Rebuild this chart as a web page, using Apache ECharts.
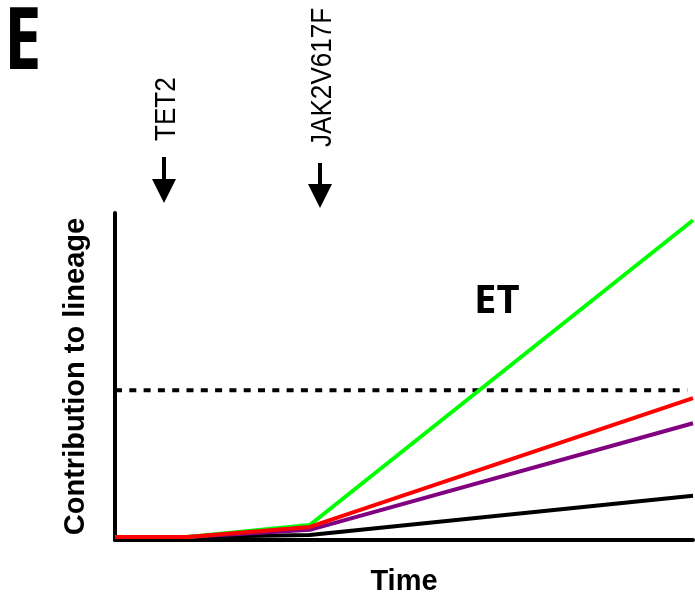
<!DOCTYPE html>
<html><head><meta charset="utf-8">
<script src="https://cdn.jsdelivr.net/npm/echarts@6/dist/echarts.min.js"></script>
<style>html,body{margin:0;padding:0;background:#fff}#c{width:695px;height:598px}</style>
</head><body><div id="c"></div>
<script>
const timePoints = [0, 12.5, 33.7, 100];
const greenVals = [0.9, 0.9, 4.6, 97.8];
const redVals = [0.9, 0.9, 4.0, 43.4];
const purpleVals = [0.9, 0.9, 3.1, 35.7];
const blackVals = [0.9, 0.9, 1.5, 13.5];
const thresholdX = [0, 99];
const thresholdY = [45.8, 45.8];

const pair = (xs, ys) => xs.map((x, i) => [x, ys[i]]);
const chart = echarts.init(document.getElementById('c'));
const mk = (name, vals, color) => ({
  name, type: 'line', data: pair(timePoints, vals), symbol: 'none', silent: true,
  lineStyle: { color, width: 4 }, animation: false
});
chart.setOption({
  animation: false,
  grid: { left: 115, right: 2, top: 213, bottom: 58, outerBoundsMode: 'none', containLabel: false },
  xAxis: { type: 'value', min: 0, max: 100, axisLine: { onZero: false, lineStyle: { color: '#000', width: 4 } },
    axisTick: { show: false }, axisLabel: { show: false }, splitLine: { show: false },
    name: 'Time', nameLocation: 'middle', nameGap: 27,
    nameTextStyle: { fontFamily: 'Liberation Sans', fontWeight: 'bold', fontSize: 29, color: '#000' } },
  yAxis: { type: 'value', min: 0, max: 100, axisLine: { show: true, lineStyle: { color: '#000', width: 4 } },
    axisTick: { show: false }, axisLabel: { show: false }, splitLine: { show: false },
    name: 'Contribution to lineage', nameLocation: 'middle', nameGap: 25,
    nameTextStyle: { fontFamily: 'Liberation Sans', fontWeight: 'bold', fontSize: 29, color: '#000' } },
  series: [
    { name: 'threshold', type: 'line', data: pair(thresholdX, thresholdY), symbol: 'none', silent: true,
      lineStyle: { color: '#000', width: 4, type: [7, 7.3] } },
    mk('black', blackVals, '#000000'),
    mk('purple', purpleVals, '#800080'),
    mk('green', greenVals, '#00ff00'),
    mk('red', redVals, '#ff0000')
  ],
  graphic: [
    { type: 'text', x: 4, y: 1, scaleX: 0.78,
      style: { text: 'E', fontFamily: 'Open Sans', fontWeight: 'bold', fontSize: 86, fill: '#000' } },
    { type: 'text', left: 474, top: 282, style: { text: 'ET', fontFamily: 'Open Sans', fontWeight: 'bold', fontSize: 40, fill: '#000' } },
    { type: 'text', x: 152, y: 141, rotation: Math.PI / 2, scaleX: 0.87,
      style: { text: 'TET2', fontFamily: 'Liberation Sans', fontSize: 30, fill: '#000', textVerticalAlign: 'top' } },
    { type: 'text', x: 308, y: 147, rotation: Math.PI / 2, scaleX: 0.87,
      style: { text: 'JAK2V617F', fontFamily: 'Liberation Sans', fontSize: 30, fill: '#000', textVerticalAlign: 'top' } },
    { type: 'rect', shape: { x: 162, y: 157, width: 4, height: 22 }, style: { fill: '#000' } },
    { type: 'polygon', shape: { points: [[152, 179], [176, 179], [164, 203]] }, style: { fill: '#000' } },
    { type: 'rect', shape: { x: 318, y: 163, width: 4, height: 22 }, style: { fill: '#000' } },
    { type: 'polygon', shape: { points: [[308, 184], [332, 184], [320, 208]] }, style: { fill: '#000' } }
  ]
});
</script></body></html>
